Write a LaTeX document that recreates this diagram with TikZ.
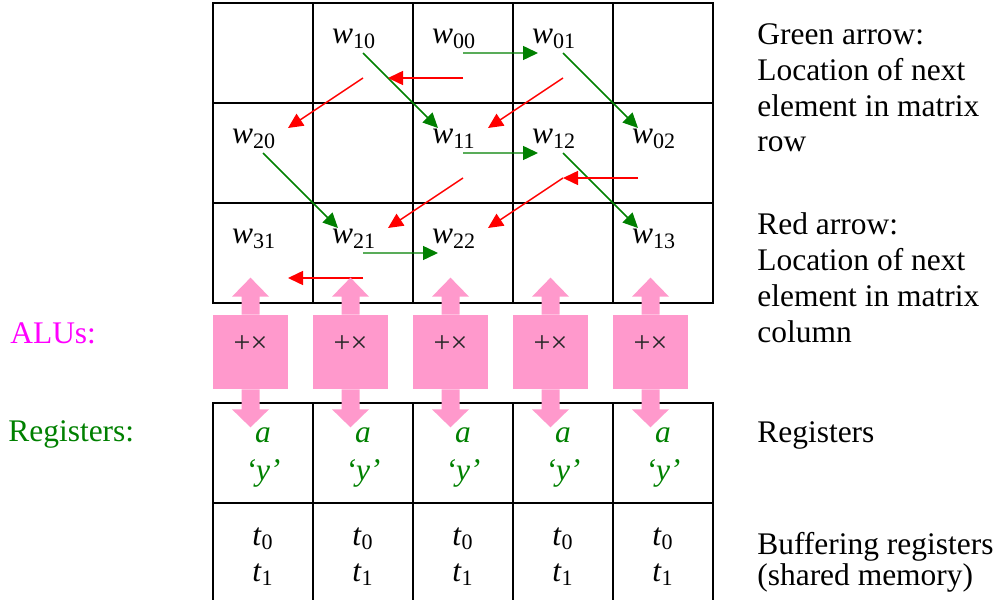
\documentclass[tikz,border=0pt]{standalone}
\usepackage{fontspec}
\setmainfont{Liberation Serif}
\usetikzlibrary{arrows.meta,calc}

\definecolor{alupink}{HTML}{FF99CC}
\definecolor{alumag}{HTML}{FF00FF}
\definecolor{rowgreen}{HTML}{008000}

\newcommand{\wel}[1]{\textit{w}\textsubscript{#1}}
\newcommand{\tel}[1]{\textit{t}\textsubscript{#1}}

\begin{document}
\begin{tikzpicture}[
  x=0.2mm, y=-0.2mm,
  font=\fontsize{17.9}{20.4}\selectfont,
  cell/.style={draw, line width=1.1pt, minimum width=2cm, minimum height=2cm, inner sep=0pt, outer sep=0pt},
  alu/.style={fill=alupink, minimum width=1.5cm, minimum height=1.48cm, inner sep=0pt, text height=0.3cm, text depth=0.3cm, text=black!85, font=\fontsize{17}{18}\selectfont},
  grn/.style={draw=rowgreen, line width=0.85pt, -{Triangle[length=0.3cm, width=0.28cm]}},
  rd/.style={draw=red, line width=0.85pt, -{Triangle[length=0.3cm, width=0.28cm]}},
  wlbl/.style={anchor=base, inner sep=0pt},
  reg/.style={cell, text=rowgreen, align=center, font=\fontsize{17.9}{21.3}\selectfont\itshape, text height=1.2cm, text depth=0.12cm},
  buf/.style={cell, align=center, font=\fontsize{17.9}{20.4}\selectfont, text height=1.2cm, text depth=0.08cm},
  side/.style={anchor=base west, inner sep=0pt, align=left}
]
\useasboundingbox (0,0) rectangle (1000,600);

% weight matrix
\foreach \r in {0,1,2}
  \foreach \c in {0,...,4}
    \node[cell] (m\r\c) at (263+100*\c, 53+100*\r) {};

\foreach \r/\c/\ij in {0/1/10, 0/2/00, 0/3/01, 1/0/20, 1/2/11, 1/3/12, 1/4/02, 2/0/31, 2/1/21, 2/2/22, 2/4/13}
  \node[wlbl] (w\ij) at ([shift={(-9,-9)}]m\r\c.center) {\wel{\ij}};

% registers and buffering registers
\foreach \c in {0,...,4} {
  \node[reg] (r\c) at (263+100*\c, 453) {a\\‘y’};
  \node[buf] (b\c) at (263+100*\c, 553) {\tel{0}\\\tel{1}};
}

% next element in row / column
\foreach \a/\b in {m02/m03, m01/m12, m03/m14, m12/m13, m10/m21, m13/m24, m21/m22}
  \draw[grn] (\a.center) -- ($(\a.center)!.75!(\b.center)$);
\foreach \a/\sx/\b/\ex/\ey in {m02/0/m01/25/25, m01/0/m10/25/-25, m03/0/m12/25/-25, m12/0/m21/25/-25, m14/-25/m13/0/25, m13/0/m22/25/-25, m21/0/m20/25/25}
  \draw[rd] ([shift={(\sx,25)}]\a.center) -- ([shift={(\ex,\ey)}]\b.center);

% ALUs with their two-way arrows
\foreach \c in {0,...,4} {
  \node[alu] (alu\c) at (250.5+100*\c, 352) {+×};
  \fill[alupink, shift={(alu\c.north)}] (-9,0) -- (-9,-18) -- (-18.5,-18) -- (0,-37) -- (18.5,-18) -- (9,-18) -- (9,0) -- cycle;
  \fill[alupink, shift={(alu\c.south)}] (-9,0) -- (-9,20) -- (-18.5,20) -- (0,38) -- (18.5,20) -- (9,20) -- (9,0) -- cycle;
}

\node[side, text=alumag] (alulbl) at (10,343) {ALUs:};
\node[side, text=rowgreen] (reglbl) at (8,441) {Registers:};

\node[side] (greennote) at (757,152) {Green arrow:\\Location of next\\element in matrix\\row};
\node[side] (rednote) at (757,342) {Red arrow:\\Location of next\\element in matrix\\column};
\node[side] (regnote) at (757,442) {Registers};
\node[side, font=\fontsize{17.9}{15.3}\selectfont] (bufnote) at (757,585) {Buffering registers\\(shared memory)};

\end{tikzpicture}
\end{document}
